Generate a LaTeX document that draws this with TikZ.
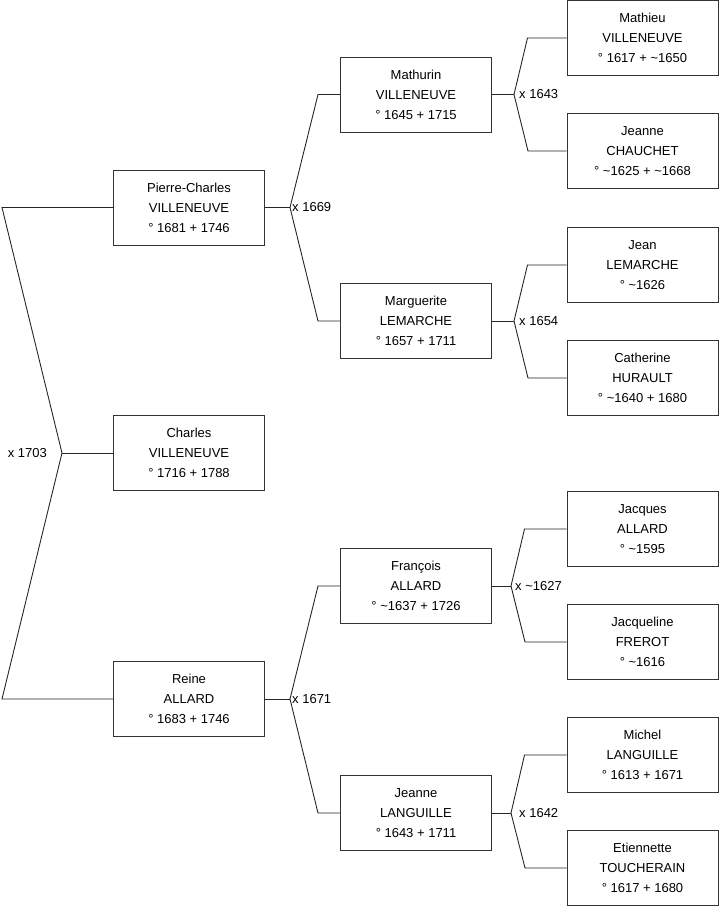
\documentclass[tikz,border=0pt]{standalone}
\usepackage{fontspec}
\setmainfont{Liberation Sans}
\usetikzlibrary{positioning}

\newcommand{\ca}{\textasciitilde}

\begin{document}
\begin{tikzpicture}[x=1pt, y=-1pt,
    person/.style={draw=black!80, line width=1pt, minimum width=151pt, minimum height=75pt,
        inner sep=0pt, align=center, font=\fontsize{13}{20}\selectfont},
    link/.style={draw=black!85, line width=0.9pt},
    wed/.style={inner sep=0pt, font=\fontsize{13}{15}\selectfont}]

    \useasboundingbox (0,0) rectangle (719,908);

    % generation 1
    \node[person] (charles) at (189,453) {Charles\\VILLENEUVE\\° 1716 + 1788};

    % generation 2
    \node[person] (pc) at (189,207.5) {Pierre-Charles\\VILLENEUVE\\° 1681 + 1746};
    \node[person] (reine) at (189,699) {Reine\\ALLARD\\° 1683 + 1746};

    % generation 3
    \node[person] (mathurin) at (416,94.5) {Mathurin\\VILLENEUVE\\° 1645 + 1715};
    \node[person] (marguerite) at (416,321) {Marguerite\\LEMARCHE\\° 1657 + 1711};
    \node[person] (francois) at (416,586) {François\\ALLARD\\° \ca1637 + 1726};
    \node[person] (jeanneL) at (416,813) {Jeanne\\LANGUILLE\\° 1643 + 1711};

    % generation 4
    \node[person] (mathieu) at (642.5,38) {Mathieu\\VILLENEUVE\\° 1617 + \ca1650};
    \node[person] (jeanneC) at (642.5,151) {Jeanne\\CHAUCHET\\° \ca1625 + \ca1668};
    \node[person] (jean) at (642.5,265) {Jean\\LEMARCHE\\° \ca1626};
    \node[person] (catherine) at (642.5,378) {Catherine\\HURAULT\\° \ca1640 + 1680};
    \node[person] (jacques) at (642.5,529) {Jacques\\ALLARD\\° \ca1595};
    \node[person] (jacqueline) at (642.5,642) {Jacqueline\\FREROT\\° \ca1616};
    \node[person] (michel) at (642.5,755) {Michel\\LANGUILLE\\° 1613 + 1671};
    \node[person] (etiennette) at (642.5,868) {Etiennette\\TOUCHERAIN\\° 1617 + 1680};

    % marriages
    \coordinate (w0) at (62,453);
    \coordinate (w1) at (290,207.5);
    \coordinate (w2) at (290,699);
    \coordinate (w3) at (514,94.5);
    \coordinate (w4) at (514,321);
    \coordinate (w5) at (511,586);
    \coordinate (w6) at (511,813);

    \node[wed, anchor=east] (m0) at (47,453) {x 1703};
    \node[wed, anchor=west] (m1) at (292,207.5) {x 1669};
    \node[wed, anchor=west] (m2) at (292,699) {x 1671};
    \node[wed, anchor=west] (m3) at (519,94.5) {x 1643};
    \node[wed, anchor=west] (m4) at (519,321) {x 1654};
    \node[wed, anchor=west] (m5) at (515,586) {x \ca1627};
    \node[wed, anchor=west] (m6) at (519,813) {x 1642};

    % child to couple
    \draw[link] (charles.west) -- (w0);
    \draw[link] (pc.east) -- (w1);
    \draw[link] (reine.east) -- (w2);
    \draw[link] (mathurin.east) -- (w3);
    \draw[link] (marguerite.east) -- (w4);
    \draw[link] (francois.east) -- (w5);
    \draw[link] (jeanneL.east) -- (w6);

    % couple to parents
    \draw[link] (pc.west) -- ++(-111,0) -- (w0) -- ++(-60,246) -- (reine.west);
    \draw[link] (mathurin.west) -- ++(-22,0) -- (w1) -- ++(28,113.5) -- (marguerite.west);
    \draw[link] (francois.west) -- ++(-22,0) -- (w2) -- ++(28,114) -- (jeanneL.west);
    \draw[link] (mathieu.west) -- ++(-39,0) -- (w3) -- ++(14,56.5) -- (jeanneC.west);
    \draw[link] (jean.west) -- ++(-39,0) -- (w4) -- ++(14,57) -- (catherine.west);
    \draw[link] (jacques.west) -- ++(-42,0) -- (w5) -- ++(14,56) -- (jacqueline.west);
    \draw[link] (michel.west) -- ++(-42,0) -- (w6) -- ++(14,55) -- (etiennette.west);

\end{tikzpicture}
\end{document}
